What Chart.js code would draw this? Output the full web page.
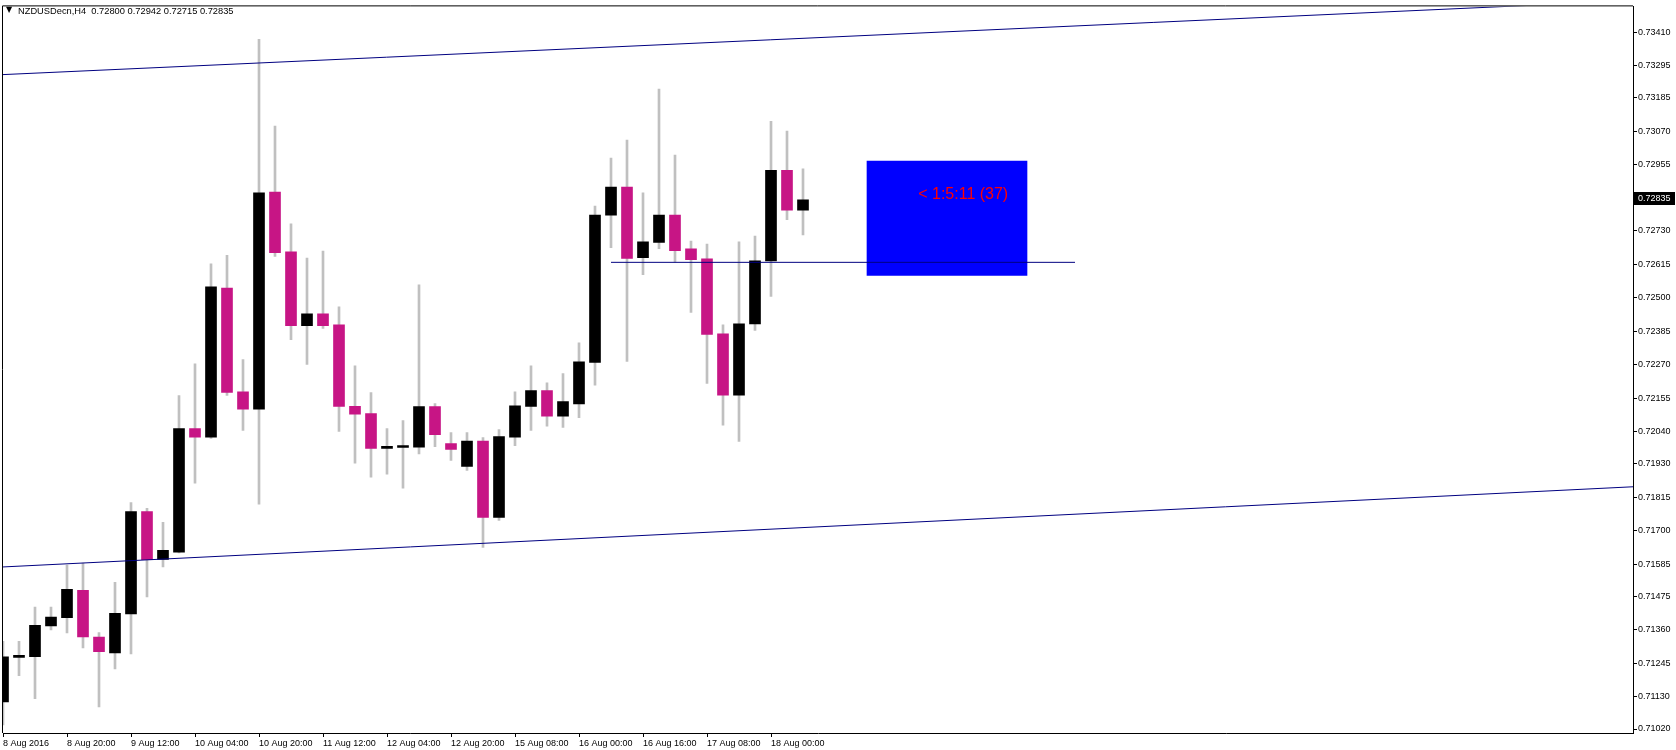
<!DOCTYPE html>
<html>
<head>
<meta charset="utf-8">
<script src="https://cdn.jsdelivr.net/npm/chart.js@4.4.1/dist/chart.umd.min.js"></script>
<style>
  html, body { margin: 0; padding: 0; background: #fff; }
</style>
</head>
<body>
<canvas id="chart" width="1676" height="750"></canvas>
<script>
  // NZDUSDecn H4 bars, index 0 = first bar on screen
  const xTickIdx = [0, 4, 8, 12, 16, 20, 24, 28, 32, 36, 40, 44, 48];
  const xLabels = ["8 Aug 2016", "8 Aug 20:00", "9 Aug 12:00", "10 Aug 04:00", "10 Aug 20:00",
    "11 Aug 12:00", "12 Aug 04:00", "12 Aug 20:00", "15 Aug 08:00", "16 Aug 00:00",
    "16 Aug 16:00", "17 Aug 08:00", "18 Aug 00:00"];

  const opens = [0.71113, 0.71266, 0.71268, 0.71374, 0.71402, 0.71496, 0.71335, 0.71281, 0.71415, 0.71766,
    0.71602, 0.71627, 0.72051, 0.72021, 0.72533, 0.72177, 0.72117, 0.72862, 0.72657, 0.72404,
    0.72444, 0.72407, 0.72127, 0.72102, 0.71983, 0.71986, 0.71987, 0.72126, 0.71999, 0.71921,
    0.72008, 0.71746, 0.72021, 0.72127, 0.72181, 0.72093, 0.72135, 0.72278, 0.72783, 0.72879,
    0.72637, 0.72689, 0.72783, 0.72667, 0.72633, 0.72376, 0.72165, 0.72410, 0.72626, 0.72937,
    0.72800];
  const highs = [0.71321, 0.71321, 0.71438, 0.71438, 0.71582, 0.71589, 0.71351, 0.71523, 0.71797, 0.71777,
    0.71729, 0.72164, 0.72273, 0.72616, 0.72645, 0.72287, 0.73386, 0.73088, 0.72753, 0.72636,
    0.72660, 0.72468, 0.72266, 0.72174, 0.72051, 0.72078, 0.72544, 0.72136, 0.72037, 0.72037,
    0.72020, 0.72047, 0.72177, 0.72266, 0.72208, 0.72239, 0.72345, 0.72814, 0.72979, 0.73040,
    0.72859, 0.73215, 0.72989, 0.72694, 0.72684, 0.72407, 0.72691, 0.72711, 0.73105, 0.73071,
    0.72942];
  const lows = [0.71034, 0.71203, 0.71124, 0.71360, 0.71350, 0.71298, 0.71096, 0.71226, 0.71278, 0.71473,
    0.71576, 0.71624, 0.71863, 0.72017, 0.72164, 0.72044, 0.71791, 0.72641, 0.72356, 0.72271,
    0.72394, 0.72041, 0.71932, 0.71884, 0.71894, 0.71846, 0.71964, 0.71989, 0.71941, 0.71907,
    0.71643, 0.71736, 0.71992, 0.72044, 0.72059, 0.72055, 0.72088, 0.72200, 0.72671, 0.72281,
    0.72579, 0.72668, 0.72622, 0.72449, 0.72206, 0.72062, 0.72007, 0.72387, 0.72504, 0.72767,
    0.72715];
  const closes = [0.71268, 0.71273, 0.71376, 0.71404, 0.71499, 0.71336, 0.71285, 0.71417, 0.71766, 0.71601,
    0.71633, 0.72051, 0.72021, 0.72537, 0.72175, 0.72117, 0.72859, 0.72654, 0.72404, 0.72444,
    0.72404, 0.72127, 0.72100, 0.71983, 0.71990, 0.71992, 0.72126, 0.72030, 0.71979, 0.72008,
    0.71746, 0.72023, 0.72129, 0.72181, 0.72093, 0.72143, 0.72280, 0.72783, 0.72879, 0.72634,
    0.72691, 0.72783, 0.72661, 0.72630, 0.72374, 0.72165, 0.72410, 0.72626, 0.72937, 0.72800,
    0.72835];

  const yTicks = [0.73410, 0.73295, 0.73185, 0.73070, 0.72955, 0.72840, 0.72730, 0.72615, 0.72500, 0.72385,
    0.72270, 0.72155, 0.72040, 0.71930, 0.71815, 0.71700, 0.71585, 0.71475, 0.71360, 0.71245,
    0.71130, 0.71020];

  // objects drawn on the chart: [bar index, price]
  const upperTrend = [[0, 0.73265], [100, 0.73514]];
  const lowerTrend = [[0, 0.71576], [101.875, 0.71851]];
  const levelLine = [[38, 0.72621], [67, 0.72621]];
  const boxRange = { from: 54, to: 64, low: 0.72576, high: 0.72968 };
  const timerText = { text: "< 1:5:11 (37)", at: 57.2, price: 0.72852 };
  const titleText = "NZDUSDecn,H4  0.72800 0.72942 0.72715 0.72835";

  const FONT = '"Liberation Sans", Arial, sans-serif';
  Chart.defaults.font.family = FONT;
  Chart.defaults.font.size = 9;
  Chart.defaults.color = "#000";

  const candleIdx = opens.map((_, i) => i);

  const overlay = {
    id: "overlay",
    afterDraw(c) {
      const ctx = c.ctx;
      const a = c.chartArea;
      const sx = c.scales.x, sy = c.scales.y;
      ctx.save();
      // frame (left + top)
      ctx.strokeStyle = "#000";
      ctx.lineWidth = 1;
      ctx.beginPath();
      ctx.moveTo(a.left - 0.5, a.bottom);
      ctx.lineTo(a.left - 0.5, a.top - 0.5);
      ctx.lineTo(a.right, a.top - 0.5);
      ctx.stroke();

      // countdown label in the box
      ctx.fillStyle = "#FF0000";
      ctx.font = "16px " + FONT;
      ctx.textBaseline = "middle";
      ctx.textAlign = "left";
      ctx.fillText(timerText.text, sx.getPixelForValue(timerText.at), sy.getPixelForValue(timerText.price));

      // symbol line
      ctx.fillStyle = "#000";
      ctx.font = '8px "DejaVu Sans"';
      ctx.fillText("\u25BC", 6, 10);
      ctx.font = "9.3px " + FONT;
      ctx.fillText(titleText, 18, 11);

      // last price marker on the axis
      const lastClose = closes[closes.length - 1];
      const py = Math.round(sy.getPixelForValue(lastClose));
      ctx.fillStyle = "#000";
      ctx.fillRect(a.right + 1, py - 8, 41, 13);
      ctx.fillStyle = "#fff";
      ctx.font = "9px " + FONT;
      ctx.fillText(lastClose.toFixed(5), a.right + 5, py - 1);
      ctx.restore();
    }
  };

  let chart = new Chart(document.getElementById("chart"), {
    type: "bar",
    data: {
      datasets: [
        {
          label: "Box",
          data: [{ x: (boxRange.from + boxRange.to) / 2, y: [boxRange.low, boxRange.high] }],
          backgroundColor: "#0000FF",
          barThickness: (boxRange.to - boxRange.from) * 16,
          grouped: false,
          clip: 0,
          order: 10
        },
        {
          label: "Wicks",
          data: candleIdx.map((i) => ({ x: i, y: [lows[i], highs[i]] })),
          backgroundColor: "#C0C0C0",
          barThickness: 2,
          grouped: false,
          clip: 0,
          order: 9
        },
        {
          label: "Bodies",
          data: candleIdx.map((i) => ({ x: i, y: [opens[i], closes[i]] })),
          backgroundColor: candleIdx.map((i) => (closes[i] >= opens[i] ? "#000000" : "#C71585")),
          barThickness: 11,
          grouped: false,
          clip: 0,
          order: 8
        },
        {
          type: "line",
          label: "Upper trend",
          data: upperTrend.map((p) => ({ x: p[0], y: p[1] })),
          borderColor: "#000080",
          borderWidth: 1,
          pointRadius: 0,
          clip: 0,
          order: 2
        },
        {
          type: "line",
          label: "Lower trend",
          data: lowerTrend.map((p) => ({ x: p[0], y: p[1] })),
          borderColor: "#000080",
          borderWidth: 1,
          pointRadius: 0,
          clip: 0,
          order: 2
        },
        {
          type: "line",
          label: "Level",
          data: levelLine.map((p) => ({ x: p[0], y: p[1] })),
          borderColor: "#000080",
          borderWidth: 1,
          pointRadius: 0,
          clip: 0,
          order: 1
        }
      ]
    },
    options: {
      responsive: false,
      animation: false,
      devicePixelRatio: 1,
      layout: { padding: { left: 3, top: 3, right: 0, bottom: 0 } },
      plugins: {
        legend: { display: false },
        tooltip: { enabled: false }
      },
      scales: {
        x: {
          type: "linear",
          position: "bottom",
          min: 0,
          max: 101.875,
          offset: false,
          grid: { offset: false, drawOnChartArea: false, drawTicks: true, tickLength: 4, color: "#000" },
          border: { display: true, color: "#000", width: 1 },
          ticks: {
            align: "start",
            autoSkip: false,
            maxRotation: 0,
            padding: 1,
            callback: (v, i) => xLabels[i]
          },
          afterBuildTicks: (s) => { s.ticks = xTickIdx.map((v) => ({ value: v })); },
          afterFit: (s) => { s.height = 17; }
        },
        y: {
          type: "linear",
          position: "right",
          min: 0.710063,
          max: 0.73499,
          beginAtZero: false,
          grid: { drawOnChartArea: false, drawTicks: true, tickLength: 4, color: "#000" },
          border: { display: true, color: "#000", width: 1 },
          ticks: {
            autoSkip: false,
            padding: 1,
            callback: (v) => v.toFixed(5)
          },
          afterBuildTicks: (s) => { s.ticks = yTicks.map((v) => ({ value: v })); },
          afterFit: (s) => { s.width = 43; }
        }
      }
    },
    plugins: [overlay]
  });
</script>
</body>
</html>
